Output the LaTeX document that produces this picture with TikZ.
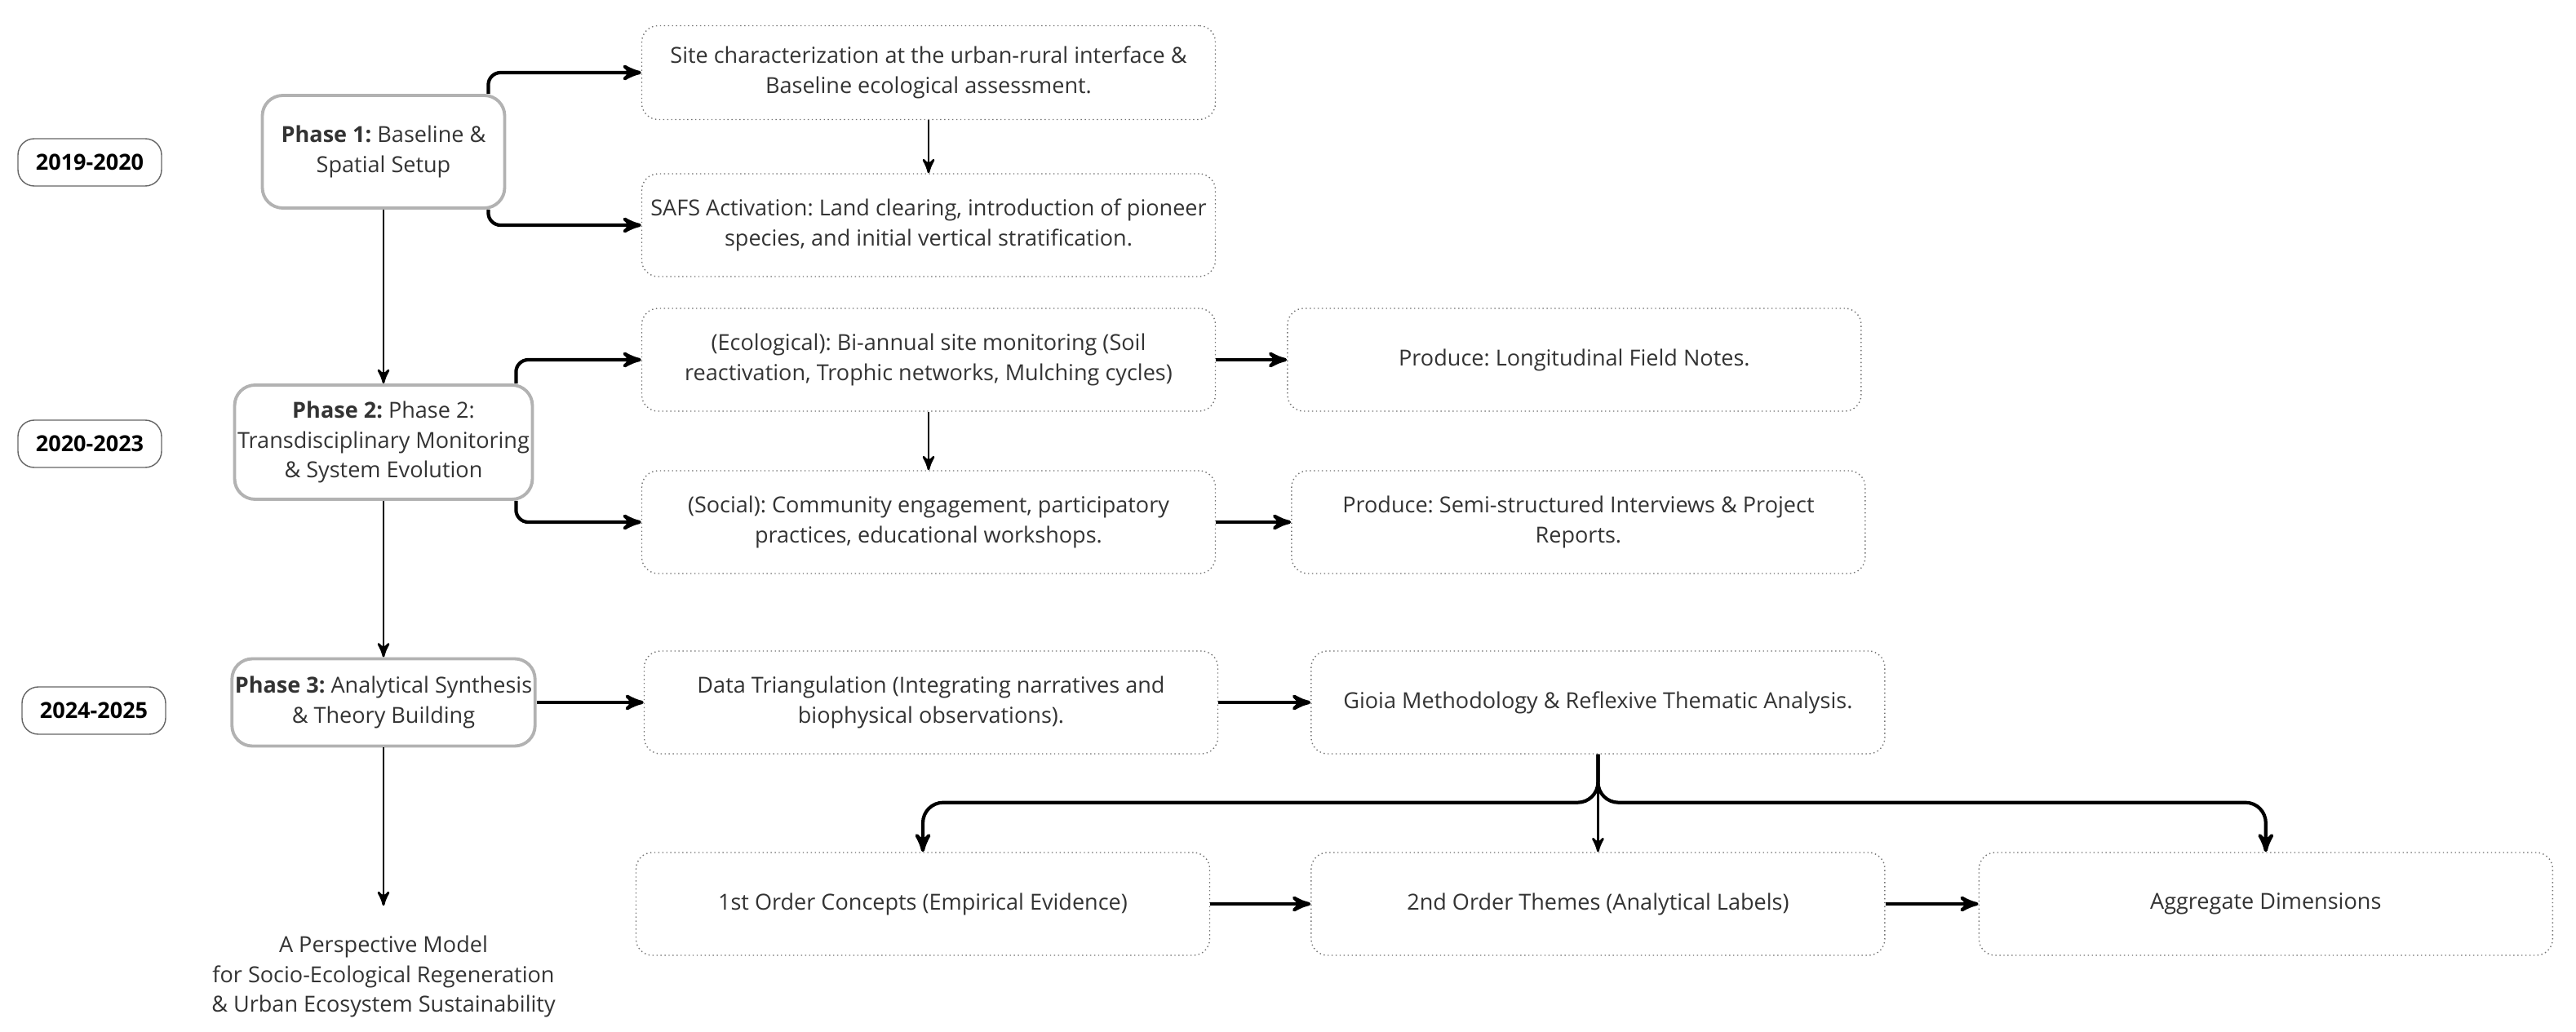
\documentclass[tikz,border=0pt]{standalone}
\usepackage{fontspec}
\setmainfont{Open Sans}
\usetikzlibrary{arrows,positioning}
\tikzstyle{yr} = [rectangle, draw=black!60, rounded corners=0.2cm,
    minimum width=1.76cm, minimum height=0.58cm, font=\bfseries]
\tikzstyle{ph} = [rectangle, draw=black!30, line width=1.1pt, rounded corners=0.25cm,
    align=center, text=black!80, inner xsep=1pt]
\tikzstyle{bx} = [rectangle, draw=black!55, densely dotted, rounded corners=0.2cm,
    minimum width=7.03cm, minimum height=1.26cm, align=center, text=black!80]
\tikzstyle{ar} = [->, line width=1.2pt]
\tikzstyle{vr} = [->, line width=0.8pt]
\begin{document}
\frenchspacing
\fontsize{7.7}{10.4}\selectfont
\begin{tikzpicture}[>=stealth']

  \useasboundingbox (0,0) rectangle (31.57,-12.65);

  % years
  \node[yr] (y1) at (1.10,-1.99) {2019-2020};
  \node[yr] (y2) at (1.10,-5.44) {2020-2023};
  \node[yr] (y3) at (1.15,-8.71) {2024-2025};

  % phases
  \node[ph, minimum width=2.97cm, minimum height=1.38cm] (p1) at (4.70,-1.86) {\textbf{Phase 1:} Baseline \&\\Spatial Setup};
  \node[ph, minimum width=3.60cm, minimum height=1.40cm] (p2) at (4.70,-5.42) {\textbf{Phase 2:} Phase 2:\\Transdisciplinary Monitoring\\\& System Evolution};
  \node[ph, minimum width=3.58cm, minimum height=1.07cm] (p3) at (4.70,-8.61) {\textbf{Phase 3:} Analytical Synthesis\\\& Theory Building};
  \node[align=center, text=black!80] (model) at (4.70,-11.97) {A Perspective Model\\for Socio-Ecological Regeneration\\\& Urban Ecosystem Sustainability};

  % steps
  \node[bx, minimum height=1.15cm] (site) at (11.38,-0.89) {Site characterization at the urban-rural interface \&\\Baseline ecological assessment.};
  \node[bx] (safs) at (11.38,-2.76) {SAFS Activation: Land clearing, introduction of pioneer\\species, and initial vertical stratification.};
  \node[bx] (eco) at (11.38,-4.41) {(Ecological): Bi-annual site monitoring (Soil\\reactivation, Trophic networks, Mulching cycles)};
  \node[bx] (soc) at (11.38,-6.40) {(Social): Community engagement, participatory\\practices, educational workshops.};
  \node[bx, right=0.87cm of eco] (lfn) {Produce: Longitudinal Field Notes.};
  \node[bx, right=0.92cm of soc] (ssi) {Produce: Semi-structured Interviews \& Project\\Reports.};
  \node[bx] (tri) at (11.41,-8.61) {Data Triangulation (Integrating narratives and\\biophysical observations).};
  \node[bx, right=1.13cm of tri] (gioia) {Gioia Methodology \& Reflexive Thematic Analysis.};
  \node[bx] (c1) at (11.31,-11.08) {1st Order Concepts (Empirical Evidence)};
  \node[bx] (c2) at (gioia |- c1) {2nd Order Themes (Analytical Labels)};
  \node[bx, right=1.14cm of c2] (agg) {Aggregate Dimensions};

  \coordinate (fork) at ([yshift=-0.59cm]gioia.south);

  \draw[ar, rounded corners=0.15cm] ([xshift=-0.22cm]p1.north east) |- (site);
  \draw[ar, rounded corners=0.15cm] ([xshift=-0.22cm]p1.south east) |- (safs);
  \draw[ar, rounded corners=0.15cm] ([xshift=-0.22cm]p2.north east) |- (eco);
  \draw[ar, rounded corners=0.15cm] ([xshift=-0.22cm]p2.south east) |- (soc);
  \draw[ar, rounded corners=0.25cm] (gioia.south) -- (fork) -| (c1);
  \draw[ar, rounded corners=0.25cm] (gioia.south) -- (fork) -| (agg);

  \path[vr] (p1) edge (p2)
  (p2) edge (p3)
  (p3) edge[shorten >=0.27cm] (model)
  (site) edge (safs)
  (eco) edge (soc)
  (gioia) edge (c2);
  \path[ar] (eco) edge (lfn)
  (soc) edge (ssi)
  (p3) edge (tri)
  (tri) edge (gioia)
  (c1) edge (c2)
  (c2) edge (agg);
\end{tikzpicture}
\end{document}
